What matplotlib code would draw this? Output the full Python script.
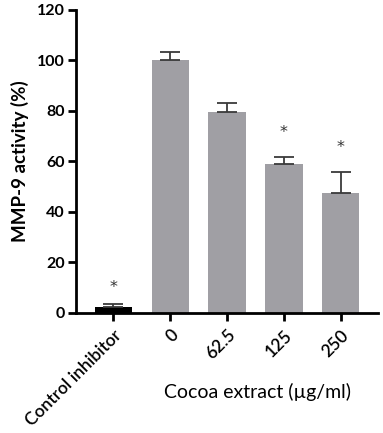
import matplotlib
matplotlib.use("Agg")
import matplotlib.pyplot as plt
import numpy as np

categories = ["Control inhibitor", "0", "62.5", "125", "250"]
values = [2.4, 100.0, 79.6, 58.8, 47.5]
errors = [1.0, 3.3, 3.4, 2.9, 8.2]
significant = [True, False, False, True, True]
star_heights = [10.0, None, None, 71.3, 65.5]
colors = ["#000000", "#a09fa4", "#a09fa4", "#a09fa4", "#a09fa4"]
yticks = [0, 20, 40, 60, 80, 100, 120]

plt.rcParams['font.family'] = ['Lato', 'DejaVu Sans']

fig = plt.figure(figsize=(3.83, 4.33), dpi=100)
ax = fig.add_axes([76/383, (433-313)/433, (378-76)/383, (313-9.5)/433])

x = np.arange(len(categories))
ax.bar(x, values, width=0.65, color=colors, edgecolor="none", zorder=2)
ax.errorbar(x, values, yerr=[np.zeros(len(errors)), errors], fmt="none",
            ecolor="#3a3a3a", elinewidth=1.3, capsize=7, capthick=1.3, zorder=3)
for xi, s, h in zip(x, significant, star_heights):
    if s:
        ax.text(xi, h, "*", ha="center", va="center", fontsize=11.5,
                color="#333333", family="DejaVu Sans")

ax.set_xlim(-0.65, 4.65)
ax.set_ylim(0, 120)
ax.set_yticks(yticks)
ax.set_yticklabels([str(t) for t in yticks], fontweight="bold", fontsize=11.5)
ax.set_xticks(x)
ax.set_xticklabels(categories, rotation=45, ha="right", rotation_mode="anchor",
                   fontsize=12.5, fontweight="semibold")
for sp in ["top", "right"]:
    ax.spines[sp].set_visible(False)
for sp in ["left", "bottom"]:
    ax.spines[sp].set_linewidth(2)
ax.tick_params(axis="both", width=2, length=6, direction="out")
ax.tick_params(axis="y", pad=2)
ax.tick_params(axis="x", pad=4)
ax.set_ylabel("MMP-9 activity (%)", fontweight="bold", fontsize=13.5, labelpad=6)
fig.text(258/383, 1 - 392/433, "Cocoa extract (µg/ml)", ha="center", va="center",
         fontsize=14)

fig.savefig("out.png", dpi=100)
